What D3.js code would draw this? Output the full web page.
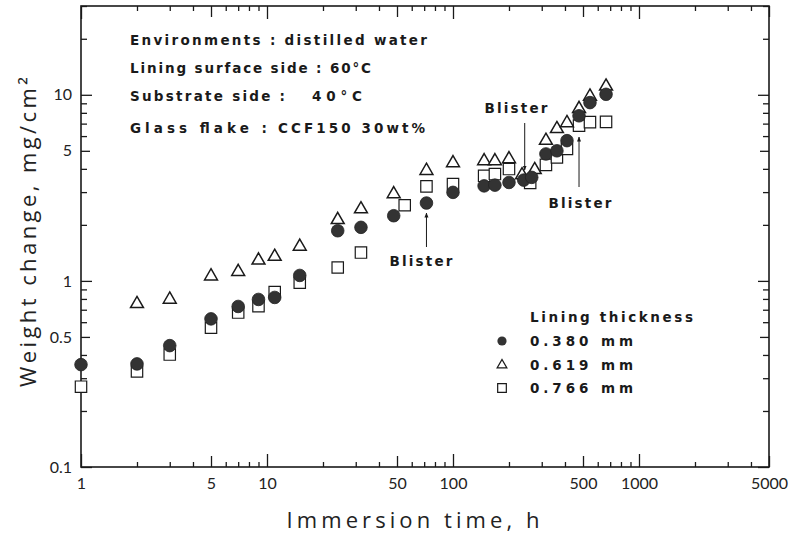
<!DOCTYPE html>
<html><head><meta charset="utf-8">
<script src="https://cdn.jsdelivr.net/npm/d3@7"></script>
<style>body{margin:0;background:#fff}</style>
</head><body>
<svg id="chart" width="790" height="536"></svg>
<script>
// ---- data ----
const series380Time  = [1,2,3,5,7,9,11,15,24,32,48,72,100,147,168,200,240,265,316,362,410,476,545,665];
const series380Value = [0.355,0.358,0.449,0.625,0.729,0.795,0.815,1.07,1.86,1.94,2.24,2.62,2.99,3.24,3.27,3.38,3.48,3.6,4.81,5.0,5.67,7.71,9.08,10.06];
const series619Time  = [2,3,5,7,9,11,15,24,32,48,72,100,147,168,200,235,275,316,362,410,476,545,665];
const series619Value = [0.753,0.795,1.06,1.12,1.29,1.35,1.53,2.13,2.43,2.93,3.91,4.30,4.41,4.41,4.52,3.7,3.95,5.67,6.56,7.06,8.41,9.8,11.1];
const series766Time  = [1,2,3,5,7,9,11,15,24,32,55,72,100,147,168,200,260,316,362,410,476,545,665];
const series766Value = [0.27,0.326,0.402,0.560,0.676,0.731,0.87,0.978,1.18,1.42,2.55,3.22,3.31,3.67,3.75,3.99,3.36,4.20,4.61,5.12,6.83,7.13,7.15];
const legendLabels = ["0.380 mm","0.619 mm","0.766 mm"];
const xTickLabels = [1,5,10,50,100,500,1000,5000];
const yTickLabels = [0.1,0.5,1,5,10];
const blisterTimes  = [72, 240, 476];   // points the arrows refer to

// ---- layout ----
const svg = d3.select("#chart");
const x = d3.scaleLog().domain([1,5000]).range([81,769]);
const y = d3.scaleLog().domain([0.1,30]).range([467,6]);
const INK = "#1a1a1a";
const labelFont = "Lato, 'Open Sans', sans-serif";
const annFont = "'DejaVu Sans', sans-serif";

const xAll = x.ticks().filter(v => v>=1 && v<=5000);
const xDec = xAll.filter(v => [1,10,100,1000].includes(v));
const xFive = xAll.filter(v => [5,50,500,5000].includes(v));
const xMinor = xAll.filter(v => !xDec.includes(v) && !xFive.includes(v));
const yAll = y.ticks().filter(v => v>=0.1 && v<=30);
const yDec = [0.1,1,10];
const yFive = [0.5,5];
const yMinor = yAll.filter(v => !yDec.includes(v) && !yFive.includes(v));

function styleAxis(g){ g.select(".domain").remove(); g.selectAll("line").attr("stroke",INK).attr("stroke-width",1.3); }

// bottom / top axes
[[xDec,13],[xFive,11],[xMinor,5]].forEach(([vals,len]) => {
  svg.append("g").attr("transform","translate(0,467)")
    .call(d3.axisBottom(x).tickValues(vals).tickSizeInner(-len).tickSizeOuter(0).tickFormat(""))
    .call(styleAxis);
  svg.append("g").attr("transform","translate(0,6)")
    .call(d3.axisTop(x).tickValues(vals).tickSizeInner(-len).tickSizeOuter(0).tickFormat(""))
    .call(styleAxis);
});
svg.append("g").attr("transform","translate(0,467)")
  .call(d3.axisBottom(x).tickValues(xTickLabels).tickSize(0).tickPadding(11).tickFormat(d3.format("d")))
  .call(g => { g.select(".domain").remove(); g.selectAll("text").attr("font-family",labelFont).attr("font-size",16).attr("fill","#222"); });

// left / right axes
[[yDec,11],[yFive,9],[yMinor,6]].forEach(([vals,len]) => {
  svg.append("g").attr("transform","translate(81,0)")
    .call(d3.axisLeft(y).tickValues(vals).tickSizeInner(-len).tickSizeOuter(0).tickFormat(""))
    .call(styleAxis);
  svg.append("g").attr("transform","translate(769,0)")
    .call(d3.axisRight(y).tickValues(vals).tickSizeInner(-len).tickSizeOuter(0).tickFormat(""))
    .call(styleAxis);
});
svg.append("g").attr("transform","translate(81,0)")
  .call(d3.axisLeft(y).tickValues(yTickLabels).tickSize(0).tickPadding(9).tickFormat(d => d<1 ? String(d) : d3.format("d")(d)))
  .call(g => { g.select(".domain").remove(); g.selectAll("text").attr("font-family",labelFont).attr("font-size",16).attr("fill","#222"); });

// frame
svg.append("rect").attr("x",81).attr("y",6).attr("width",688).attr("height",461)
  .attr("fill","none").attr("stroke",INK).attr("stroke-width",1.6);

// axis titles
svg.append("text").attr("x",413).attr("y",528).attr("text-anchor","middle")
  .attr("font-family","'Open Sans', sans-serif").attr("font-size",22).attr("fill","#222")
  .attr("textLength",253).attr("lengthAdjust","spacing").text("Immersion time,  h");
svg.append("text").attr("transform","translate(36,232) rotate(-90)").attr("text-anchor","middle")
  .attr("font-family","'Open Sans', sans-serif").attr("font-size",22).attr("fill","#222")
  .attr("textLength",310).attr("lengthAdjust","spacing")
  .text("Weight change,  mg/cm\u00B2");

// ---- markers ----
const sq = d3.symbol().type(d3.symbolSquare).size(130);
const tri = d3.symbol().type(d3.symbolTriangle).size(72);
const d766 = series766Time.map((t,i)=>({t, v:series766Value[i]}));
const d619 = series619Time.map((t,i)=>({t, v:series619Value[i]}));
const d380 = series380Time.map((t,i)=>({t, v:series380Value[i]}));

svg.append("g").selectAll("path").data(d766).join("path")
  .attr("d", sq).attr("transform", d => `translate(${x(d.t)},${y(d.v)})`)
  .attr("fill","#fff").attr("stroke",INK).attr("stroke-width",1.2);
svg.append("g").selectAll("path").data(d619).join("path")
  .attr("d", tri).attr("transform", d => `translate(${x(d.t)},${y(d.v)})`)
  .attr("fill","#fff").attr("stroke",INK).attr("stroke-width",1.5);
svg.append("g").selectAll("circle").data(d380).join("circle")
  .attr("cx", d => x(d.t)).attr("cy", d => y(d.v)).attr("r",6.3)
  .attr("fill","#333").attr("stroke","#222").attr("stroke-width",0.8);

// ---- annotations ----
function ann(txt, xx, yy, len, size){
  const t = svg.append("text").attr("x",xx).attr("y",yy)
    .attr("font-family",annFont).attr("font-weight","bold").attr("font-size",size||13.5)
    .attr("fill","#1a1a1a").text(txt);
  if (len) t.attr("textLength",len).attr("lengthAdjust","spacing");
  return t;
}
ann("Environments : distilled water", 130, 45, 297);
ann("Lining surface side : 60\u00B0C", 130, 73, 241);
ann("Substrate side :", 130, 101, 155);
ann("40\u00B0C", 312, 101, 50);
ann("Glass flake :", 130, 133, 137);
ann("CCF150 30wt%", 278, 133, 147);

// legend
ann("Lining thickness", 530, 322, 163);
legendLabels.forEach((lab,i) => ann(lab, 530, 346 + i*23.5, 103));
const lg = svg.append("g");
lg.append("circle").attr("cx",502).attr("cy",341).attr("r",4.6).attr("fill","#333");
lg.append("path").attr("d", d3.symbol().type(d3.symbolTriangle).size(40)()).attr("transform","translate(502,365)")
  .attr("fill","#fff").attr("stroke",INK).attr("stroke-width",1.3);
lg.append("path").attr("d", d3.symbol().type(d3.symbolSquare).size(75)()).attr("transform","translate(502,388)")
  .attr("fill","#fff").attr("stroke",INK).attr("stroke-width",1.2);

// blister labels with arrows
const defs = svg.append("defs");
defs.append("marker").attr("id","ah").attr("viewBox","0 0 10 10").attr("refX",9).attr("refY",5)
  .attr("markerWidth",5).attr("markerHeight",7).attr("orient","auto")
  .append("path").attr("d","M0,1L10,5L0,9Z").attr("fill",INK);
const blisters = [
  {tx:421, ty:266, ax:x(blisterTimes[0]), y1:247, y2:213},
  {tx:516, ty:113, ax:x(blisterTimes[1])+1, y1:123, y2:170},
  {tx:580, ty:208, ax:x(blisterTimes[2]), y1:187, y2:137}
];
blisters.forEach(b => {
  ann("Blister", b.tx-31.5, b.ty, 63);
  svg.append("line").attr("x1",b.ax).attr("x2",b.ax).attr("y1",b.y1).attr("y2",b.y2)
    .attr("stroke",INK).attr("stroke-width",1).attr("marker-end","url(#ah)");
});
</script>
</body></html>
